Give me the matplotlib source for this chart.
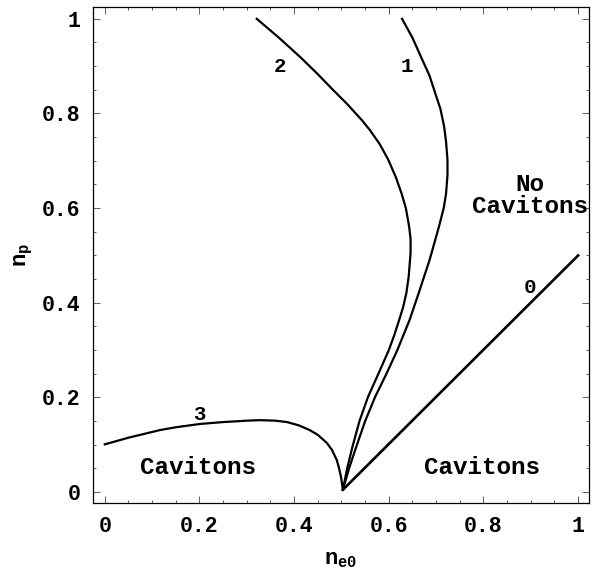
import matplotlib
matplotlib.use("Agg")
import matplotlib.pyplot as plt
from matplotlib.ticker import MultipleLocator

# curve points (n_e0, n_p)
c0_x = [0.503, 1.0]
c0_y = [0.005, 0.5]

c1_x = [0.503, 0.516, 0.531, 0.550, 0.571, 0.595, 0.618, 0.644, 0.663, 0.686,
        0.706, 0.716, 0.721, 0.724, 0.724, 0.721, 0.717, 0.709, 0.698, 0.686,
        0.671, 0.650, 0.628]
c1_y = [0.005, 0.050, 0.095, 0.150, 0.201, 0.250, 0.300, 0.364, 0.420, 0.490,
        0.561, 0.600, 0.631, 0.670, 0.702, 0.740, 0.772, 0.810, 0.843, 0.880,
        0.913, 0.960, 1.0]

c2_x = [0.503, 0.512, 0.523, 0.538, 0.556, 0.578, 0.600, 0.611, 0.622, 0.630,
        0.637, 0.642, 0.646, 0.646, 0.643, 0.636, 0.627, 0.615, 0.599, 0.581,
        0.560, 0.543, 0.512, 0.482, 0.448, 0.412, 0.368, 0.321]
c2_y = [0.005, 0.050, 0.095, 0.150, 0.201, 0.250, 0.300, 0.330, 0.364, 0.390,
        0.420, 0.455, 0.505, 0.535, 0.561, 0.600, 0.631, 0.665, 0.702, 0.735,
        0.765, 0.786, 0.820, 0.850, 0.885, 0.920, 0.960, 1.0]

c3_x = [0.0, 0.05, 0.116, 0.15, 0.201, 0.25, 0.285, 0.30, 0.328, 0.36, 0.385,
        0.41, 0.433, 0.45, 0.469, 0.48, 0.490, 0.495, 0.499, 0.503]
c3_y = [0.101, 0.115, 0.131, 0.137, 0.144, 0.148, 0.150, 0.151, 0.152, 0.151,
        0.148, 0.141, 0.131, 0.121, 0.104, 0.089, 0.068, 0.050, 0.032, 0.005]

curve_labels = [("0", 0.898, 0.433), ("1", 0.638, 0.90), ("2", 0.37, 0.90), ("3", 0.199, 0.163)]
region_labels = [("Cavitons", 0.197, 0.051), ("Cavitons", 0.797, 0.051),
                 ("No\nCavitons", 0.898, 0.626)]

major_ticks = [0, 0.2, 0.4, 0.6, 0.8, 1.0]
tick_text = ["0", "0.2", "0.4", "0.6", "0.8", "1"]

plt.rcParams.update({
    "font.family": "Liberation Mono",
    "font.weight": "bold",
    "mathtext.fontset": "custom",
    "mathtext.rm": "Liberation Mono:bold",
    "mathtext.it": "Liberation Mono:bold",
    "mathtext.bf": "Liberation Mono:bold",
})

fig = plt.figure(figsize=(6.01, 5.71), dpi=100)
ax = fig.add_axes([93 / 601, 68 / 571, 496 / 601, 496 / 571])

for xs, ys in [(c1_x, c1_y), (c2_x, c2_y), (c3_x, c3_y)]:
    ax.plot(xs, ys, color="black", lw=1.6, solid_joinstyle="round")
ax.plot(c0_x, c0_y, color="black", lw=1.9)

for s, x, y in curve_labels:
    ax.text(x, y, s, fontsize=15, ha="center", va="center", fontweight="bold")
for s, x, y in region_labels:
    ax.text(x, y, s, fontsize=17.5, ha="center", va="center", fontweight="bold",
            linespacing=0.95)

ax.set_xlim(-0.025, 1.023)
ax.set_ylim(-0.023, 1.025)
ax.set_xticks(major_ticks)
ax.set_xticklabels(tick_text)
ax.set_yticks(major_ticks)
ax.set_yticklabels(tick_text)
ax.xaxis.set_minor_locator(MultipleLocator(0.05))
ax.yaxis.set_minor_locator(MultipleLocator(0.05))
ax.tick_params(which="both", direction="in", top=True, right=True,
               width=0.6, color="#444444", labelsize=15.5, pad=9)
ax.tick_params(which="major", length=5)
ax.tick_params(which="minor", length=2.5)
for sp in ax.spines.values():
    sp.set_linewidth(0.9)

ax.set_xlabel(r"$\mathrm{n}_{\mathrm{e0}}$", fontsize=16, labelpad=9)
ax.set_ylabel(r"$\mathrm{n}_{\mathrm{p}}$", fontsize=16, labelpad=5)

fig.savefig("out.png", dpi=100)
